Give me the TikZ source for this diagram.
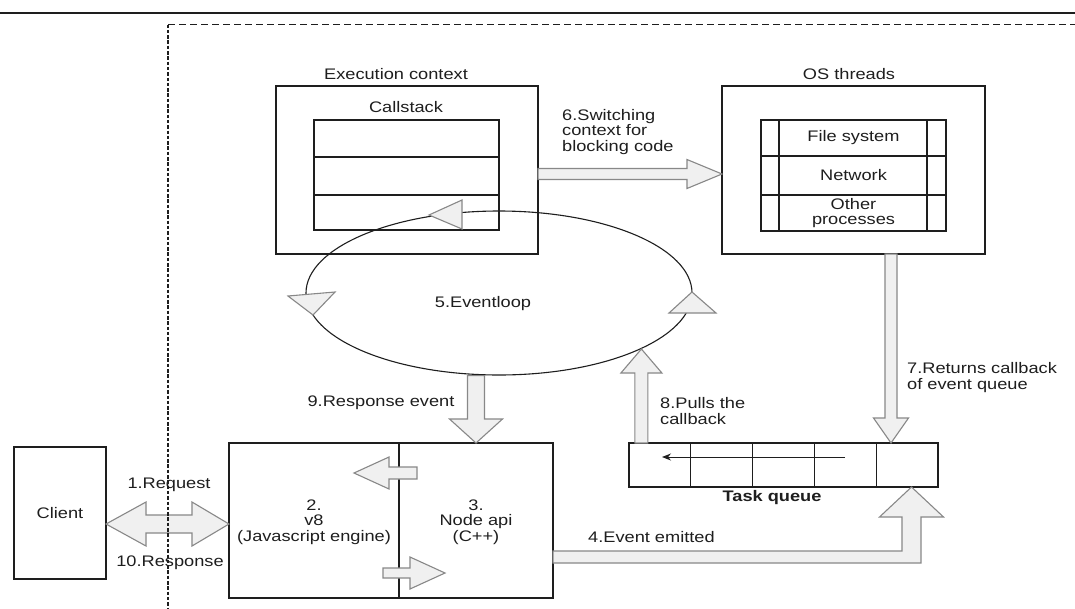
\documentclass[tikz,border=0pt]{standalone}
\usepackage{fontspec}
\setmainfont{Liberation Sans}[FakeStretch=1.19]
\usetikzlibrary{calc,arrows.meta,shapes.geometric}
\definecolor{afill}{HTML}{F0F0F0}
\definecolor{aline}{HTML}{888888}
\definecolor{ink}{HTML}{1E1E1E}
% horizontal fat arrow: start, tip, shaft half, head half, signed head length
\newcommand\fatH[5]{\filldraw[fatarrow] let \p1=#1, \p2=#2 in
  (\x1,\y1+#3) -- (\x2-#5,\y1+#3) -- (\x2-#5,\y1+#4) -- (\x2,\y1) --
  (\x2-#5,\y1-#4) -- (\x2-#5,\y1-#3) -- (\x1,\y1-#3) -- cycle;}
% vertical fat arrow: start, tip, shaft half, head half, signed head length
\newcommand\fatV[5]{\filldraw[fatarrow] let \p1=#1, \p2=#2 in
  (\x1-#3,\y1) -- (\x1-#3,\y2-#5) -- (\x1-#4,\y2-#5) -- (\x1,\y2) --
  (\x1+#4,\y2-#5) -- (\x1+#3,\y2-#5) -- (\x1+#3,\y1) -- cycle;}
\begin{document}
\begin{tikzpicture}[x=1pt,y=-1pt,
  font=\fontsize{15.3}{15.7}\selectfont,
  box/.style={draw=ink, line width=1.3pt, inner sep=0pt, outer sep=0pt, anchor=north west, text=ink, align=center},
  fatarrow/.style={fill=afill, draw=aline, line width=1.1pt, line join=miter},
  tri/.style={fill=afill, draw=aline, line width=1.1pt},
  lbl/.style={text=ink, inner sep=0pt}]
\useasboundingbox (0,0) rectangle (1075,608);
\fill[white] (0,0) rectangle (1075,608);

% top rule
\draw[ink, line width=1.6pt] (0,13) -- (1075,13);

% execution context
\node[box, minimum width=262pt, minimum height=168pt] (exec) at (276,86) {};
\node[lbl] (exect) at (396,74) {Execution context};
\node[lbl] (cst) at (406,107) {Callstack};
\node[box, minimum width=185pt, minimum height=37pt] (cs1) at (314,120) {};
\node[box, minimum width=185pt, minimum height=38pt] (cs2) at (314,157) {};
\node[box, minimum width=185pt, minimum height=35pt] (cs3) at (314,195) {};

% OS threads
\node[box, minimum width=263pt, minimum height=168pt] (os) at (722,86) {};
\node[lbl] (ost) at (849,74) {OS threads};
\node[box, minimum width=185pt, minimum height=36pt] (fs) at (761,120) {File system};
\node[box, minimum width=185pt, minimum height=39pt] (net) at (761,156) {Network};
\node[box, minimum width=185pt, minimum height=36pt] (oth) at (761,195) {Other\\processes};
\draw[ink, line width=1.3pt] ([xshift=18pt]fs.north west) -- ([xshift=18pt]oth.south west)
  ([xshift=-19pt]fs.north east) -- ([xshift=-19pt]oth.south east);

% event loop
\node[draw=ink, line width=1.1pt, ellipse, minimum width=386pt, minimum height=164pt, inner sep=0pt] (el) at (499,293) {};
\node[lbl] (elt) at (483,304) {5.Eventloop};
\filldraw[tri] (429,215) -- (462,200) -- (462,229) -- cycle;
\filldraw[tri] (288,296) -- (335,292) -- (313,315) -- cycle;
\filldraw[tri] (692,292) -- (669,313) -- (716,313) -- cycle;

% task queue
\foreach \i in {1,...,5}{
  \node[box, minimum width=61.8pt, minimum height=44pt] (tq\i) at ({629+(\i-1)*61.8},443) {};
}
\node[lbl, font=\fontsize{15.3}{15.7}\selectfont\bfseries] (tqt) at (772,498) {Task queue};
\coordinate (qs) at (845,457);
\coordinate (qe) at (662,457);
\draw[ink, line width=1pt, -{Stealth[length=9pt,width=7pt]}] (qs) -- (qe);

% engine box
\node[box, minimum width=324pt, minimum height=155pt] (eng) at (229,443) {};
\draw[ink, line width=1.3pt] ([xshift=170pt]eng.north west) -- ([xshift=170pt]eng.south west);
\node[lbl, align=center] (v8) at (314,522) {2.\\v8\\(Javascript engine)};
\node[lbl, align=center] (napi) at (476,522) {3.\\Node api\\(C++)};

% client
\node[box, minimum width=92pt, minimum height=132pt] (client) at (14,447) {Client};

% arrow 6
\fatH{([yshift=-4pt]exec.east)}{([yshift=-4pt]os.west)}{5.5pt}{14.5pt}{35pt}
\node[lbl, align=left, anchor=west] (l6) at (562,132) {6.Switching\\context for\\blocking code};

% arrow 9
\coordinate (a9e) at ([xshift=247pt]eng.north west);
\coordinate (a9s) at (a9e |- el.south);
\fatV{(a9s)}{(a9e)}{8.5pt}{26.5pt}{-24pt}
\node[lbl] (l9) at (381,403) {9.Response event};

% arrow 8
\coordinate (a8s) at ([xshift=-18.5pt]tq1.north);
\coordinate (a8e) at (641.5,349);
\fatV{(a8s)}{(a8e)}{6.5pt}{20.5pt}{24pt}
\node[lbl, align=left, anchor=west] (l8) at (660,411) {8.Pulls the\\callback};

% arrow 7
\coordinate (a7s) at ([xshift=37.5pt]os.south);
\coordinate (a7e) at (a7s |- tq5.north);
\fatV{(a7s)}{(a7e)}{6pt}{17.5pt}{-25pt}
\node[lbl, align=left, anchor=west] (l7) at (907,377.5) {7.Returns callback\\of event queue};

% arrow 4 (elbow)
\coordinate (a4s) at ([yshift=-36.5pt]eng.east);
\coordinate (a4e) at ([xshift=4.4pt]tq5.south);
\filldraw[fatarrow] let \p1=(a4s), \p2=(a4e) in
  (\x1,\y1+6pt) -- (\x2-9.5pt,\y1+6pt) -- (\x2-9.5pt,\y2-30pt) -- (\x2-32pt,\y2-30pt) --
  (\x2,\y2) -- (\x2+32pt,\y2-30pt) -- (\x2+9.5pt,\y2-30pt) -- (\x2+9.5pt,\y1-6pt) --
  (\x1,\y1-6pt) -- cycle;
\node[lbl, anchor=west] (l4) at (588,537) {4.Event emitted};

% small arrows inside engine
\coordinate (s1s) at (417,473);
\coordinate (s1e) at (354,473);
\fatH{(s1s)}{(s1e)}{6pt}{16pt}{-35pt}
\coordinate (s2s) at (383,573);
\coordinate (s2e) at (445,573);
\fatH{(s2s)}{(s2e)}{5pt}{16pt}{35pt}

% client double arrow
\coordinate (da) at ([yshift=-11pt]client.east);
\coordinate (db) at (eng.west |- da);
\filldraw[fatarrow] let \p1=(da), \p2=(db) in
  (\x1,\y1) -- (\x1+40pt,\y1+22pt) -- (\x1+40pt,\y1+9pt) -- (\x2-37pt,\y1+9pt) --
  (\x2-37pt,\y1+22pt) -- (\x2,\y2) -- (\x2-37pt,\y1-22pt) -- (\x2-37pt,\y1-9pt) --
  (\x1+40pt,\y1-9pt) -- (\x1+40pt,\y1-22pt) -- cycle;
\node[lbl] (l1) at (169,485) {1.Request};
\node[lbl] (l10) at (170,563) {10.Response};

% dashed boundary
\draw[ink, line width=1.2pt, dash pattern=on 7pt off 4pt] (168,24.5) -- (1075,24.5);
\draw[ink, line width=1.2pt, dash pattern=on 3.5pt off 1.8pt] (168,24.5) -- (168,608);
\end{tikzpicture}
\end{document}
